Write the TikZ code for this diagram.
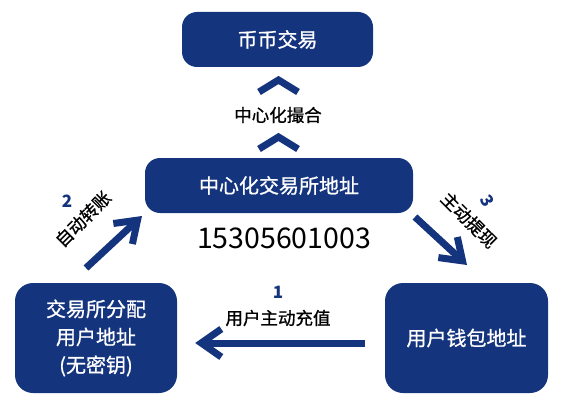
\documentclass[tikz,border=0pt]{standalone}
\usepackage{fontspec}
\setmainfont{Noto Sans CJK SC}
\newfontfamily\heavycjk[FakeBold=0.9]{Noto Sans CJK SC}
\usetikzlibrary{arrows.meta}
\definecolor{exblue}{RGB}{21,52,126}

\begin{document}
\begin{tikzpicture}[x=1pt,y=-1pt,
	box/.style={fill=exblue,text=white,rounded corners=15pt,align=center,inner sep=0pt,font=\heavycjk\fontsize{20}{28}\selectfont},
	flow/.style={exblue,line width=7pt,-{Straight Barb[length=20pt,width=28pt]}},
	lbl/.style={font=\heavycjk\fontsize{17.5}{20}\selectfont},
	num/.style={text=exblue,font=\fontsize{17}{20}\selectfont\bfseries}]
\useasboundingbox (0,0) rectangle (561,409);

\node (spot) at (277.5,39.5) [box,minimum width=191pt,minimum height=55pt] {币币交易};
\node (hub) at (279,185.5) [box,minimum width=268pt,minimum height=55pt] {中心化交易所地址};
\node (alloc) at (96,338) [box,minimum width=162pt,minimum height=110pt,rounded corners=18pt] {交易所分配\\用户地址\\(无密钥)};
\node (wallet) at (466.5,338) [box,minimum width=163pt,minimum height=110pt,rounded corners=18pt] {用户钱包地址};

% chevrons between hub and spot
	\foreach \y in {80,137} {
		\draw[exblue,line width=7pt] (259,\y+12) -- (278.5,\y) -- (298,\y+12);
		}
\node (match) at (278,115) [lbl] {中心化撮合};
\node (phone) at (284,238) [font=\fontsize{28.5}{30}\selectfont] {15305601003};

% step 1
\draw[flow,shorten <=20pt,shorten >=18pt] ([yshift=-5pt]wallet.west) -- ([yshift=-5pt]alloc.east);
\node (n1) at (278,292) [num] {1};
\node (t1) at (278,318) [lbl] {用户主动充值};

% step 2
\coordinate (s2a) at (86,268);
\coordinate (s2b) at (142,216);
\draw[flow] (s2a) -- (s2b);
\node (n2) at (67,201) [num] {2};
\node (t2) at (83,219) [lbl,rotate=45] {自动转账};

% step 3
\coordinate (s3a) at (415,217);
\coordinate (s3b) at (467,265);
\draw[flow] (s3a) -- (s3b);
\node (n3) at (487,201) [num,rotate=-60] {3};
\node (t3) at (469,220) [lbl,rotate=-45] {主动提现};
\end{tikzpicture}
\end{document}
